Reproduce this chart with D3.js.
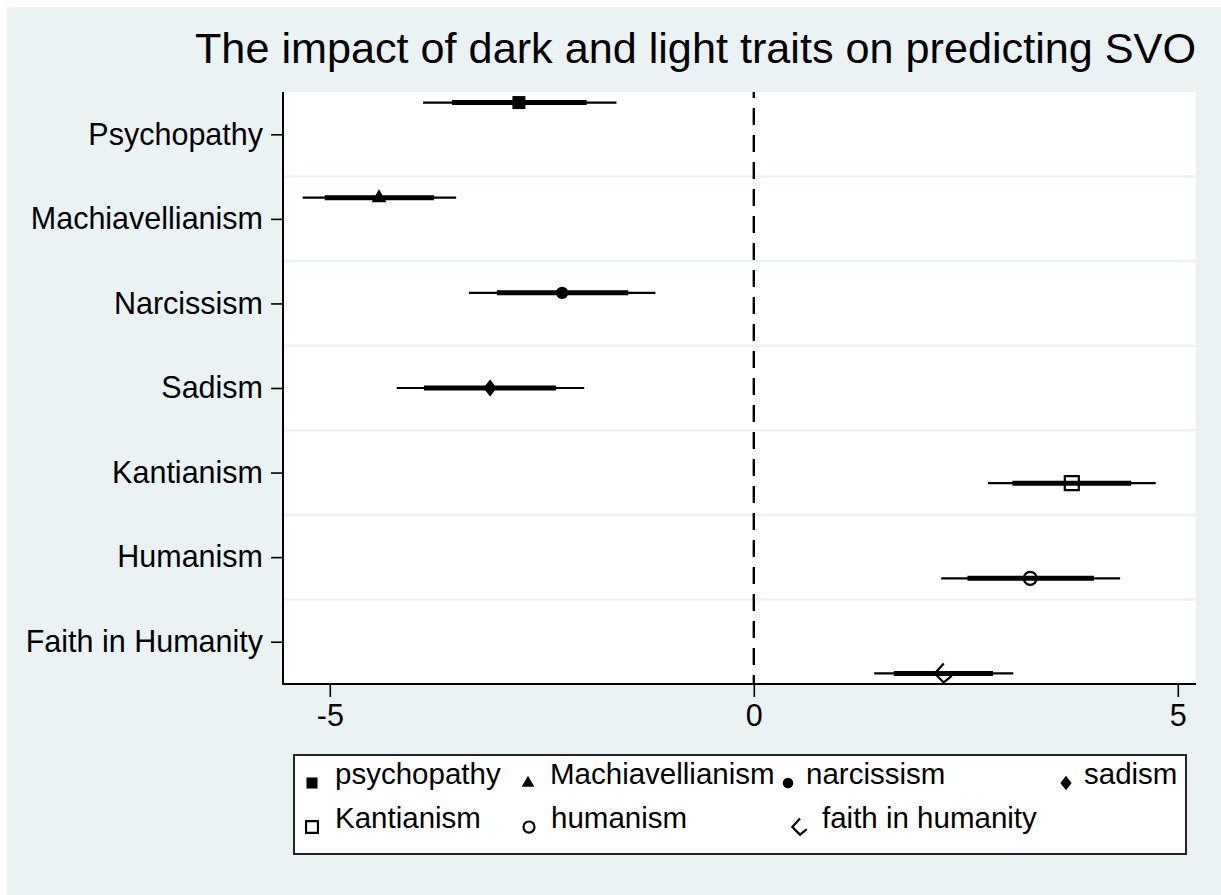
<!DOCTYPE html>
<html>
<head>
<meta charset="utf-8">
<script src="https://cdn.jsdelivr.net/npm/d3@7"></script>
<style>
  html, body { margin: 0; padding: 0; background: #ffffff; }
  svg { display: block; font-family: "Liberation Sans", Arial, sans-serif; }
</style>
</head>
<body>
<svg id="chart" width="1221" height="895"></svg>
<script>
// ---- data ----
const categories = ["Psychopathy", "Machiavellianism", "Narcissism", "Sadism", "Kantianism", "Humanism", "Faith in Humanity"];
const seriesNames = ["psychopathy", "Machiavellianism", "narcissism", "sadism", "Kantianism", "humanism", "faith in humanity"];
const estimates = [-2.77, -4.42, -2.26, -3.11, 3.75, 3.26, 2.24];
const ciOuterLow = [-3.90, -5.32, -3.36, -4.21, 2.76, 2.21, 1.42];
const ciOuterHigh = [-1.62, -3.51, -1.16, -2.00, 4.74, 4.32, 3.06];
const ciInnerLow = [-3.56, -5.06, -3.03, -3.89, 3.05, 2.52, 1.65];
const ciInnerHigh = [-1.97, -3.77, -1.48, -2.33, 4.45, 4.01, 2.82];
const markerTypes = ["squareFilled", "triangleFilled", "circleFilled", "diamondFilled", "squareHollow", "circleHollow", "diamondHollow"];
const xTicks = [-5, 0, 5];
const titleText = "The impact of dark and light traits on predicting SVO";

// ---- layout ----
const W = 1221, H = 895;
const plot = { left: 283, right: 1196, top: 92, bottom: 684 };
const bg = "#eaf2f3";

const svg = d3.select("#chart");
svg.append("rect").attr("x", 7).attr("y", 7).attr("width", W - 7).attr("height", H - 7).attr("fill", bg);
svg.append("rect").attr("x", plot.left).attr("y", plot.top)
  .attr("width", plot.right - plot.left).attr("height", plot.bottom - plot.top).attr("fill", "#ffffff");

const x = d3.scaleLinear().domain([-5, 5]).range([329.8, 1177.8]);
const y = d3.scaleLinear().domain([0.5, categories.length + 0.5]).range([plot.top, plot.bottom]);
const nS = seriesNames.length;
const offset = i => (i - (nS - 1) / 2) / (nS + 1);

// gridlines between categories
const gridVals = d3.range(1, categories.length).map(d => d + 0.5);
svg.append("g").selectAll("line").data(gridVals).join("line")
  .attr("x1", plot.left).attr("x2", plot.right)
  .attr("y1", d => y(d)).attr("y2", d => y(d))
  .attr("stroke", bg).attr("stroke-width", 2.6);

// reference line at 0
svg.append("line")
  .attr("x1", x(0)).attr("x2", x(0)).attr("y1", plot.top).attr("y2", plot.bottom)
  .attr("stroke", "#000").attr("stroke-width", 2.4)
  .attr("stroke-dasharray", "17 10").attr("stroke-dashoffset", 11);

// symbol paths
function symbolPath(type, s) {
  const p = d3.path();
  switch (type) {
    case "squareFilled": { const h = 6.5 * s; p.rect(-h, -h, 2 * h, 2 * h); break; }
    case "squareHollow": { const h = 7 * s; p.rect(-h, -h, 2 * h, 2 * h); break; }
    case "triangleFilled": { p.moveTo(0, -8.5 * s); p.lineTo(7.5 * s, 4.5 * s); p.lineTo(-7.5 * s, 4.5 * s); p.closePath(); break; }
    case "circleFilled": { p.arc(0, 0, 6.2 * s, 0, 2 * Math.PI); break; }
    case "circleHollow": { p.arc(0, 0, 6.5 * s, 0, 2 * Math.PI); break; }
    case "diamondFilled": { p.moveTo(0, -8.6 * s); p.lineTo(6.6 * s, 0); p.lineTo(0, 8.6 * s); p.lineTo(-6.6 * s, 0); p.closePath(); break; }
    case "diamondHollow": { p.moveTo(0, -10 * s); p.lineTo(-9 * s, 0); p.lineTo(0, 9 * s); p.lineTo(8 * s, 2.5 * s); break; }
  }
  return p.toString();
}
function styleSymbol(sel, type) {
  const hollow = type.endsWith("Hollow");
  sel.attr("fill", hollow ? "none" : "#000")
     .attr("stroke", hollow ? "#000" : "none")
     .attr("stroke-width", hollow ? 2.2 : 0);
}

// coefficient marks
const rows = estimates.map((e, i) => ({
  i, e, lo: ciOuterLow[i], hi: ciOuterHigh[i], lo2: ciInnerLow[i], hi2: ciInnerHigh[i],
  yy: y(i + 1 + offset(i)), type: markerTypes[i]
}));
const g = svg.append("g");
g.selectAll("line.outer").data(rows).join("line").attr("class", "outer")
  .attr("x1", d => x(d.lo)).attr("x2", d => x(d.hi)).attr("y1", d => d.yy).attr("y2", d => d.yy)
  .attr("stroke", "#000").attr("stroke-width", 2.2);
g.selectAll("line.inner").data(rows).join("line").attr("class", "inner")
  .attr("x1", d => x(d.lo2)).attr("x2", d => x(d.hi2)).attr("y1", d => d.yy).attr("y2", d => d.yy)
  .attr("stroke", "#000").attr("stroke-width", 5);
g.selectAll("path.mk").data(rows).join("path").attr("class", "mk")
  .attr("transform", d => `translate(${x(d.e)},${d.yy})`)
  .attr("d", d => symbolPath(d.type, 1))
  .each(function (d) { styleSymbol(d3.select(this), d.type); });

// axes lines
svg.append("line").attr("x1", plot.left).attr("x2", plot.left).attr("y1", plot.top).attr("y2", plot.bottom + 1)
  .attr("stroke", "#000").attr("stroke-width", 2);
svg.append("line").attr("x1", plot.left - 1).attr("x2", plot.right).attr("y1", plot.bottom).attr("y2", plot.bottom)
  .attr("stroke", "#000").attr("stroke-width", 2);

// y axis
const yAxis = d3.axisLeft(y).tickValues(d3.range(1, categories.length + 1))
  .tickFormat(d => categories[d - 1]).tickSize(12).tickPadding(8);
const ya = svg.append("g").attr("transform", `translate(${plot.left},0)`).call(yAxis);
ya.select(".domain").remove();
ya.selectAll(".tick line").attr("stroke", "#000").attr("stroke-width", 1.6);
ya.selectAll(".tick text").attr("font-size", 30.5).attr("fill", "#000")
  .attr("font-family", "Liberation Sans, Arial, sans-serif");

// x axis
const xAxis = d3.axisBottom(x).tickValues(xTicks).tickFormat(d3.format("d")).tickSize(13).tickPadding(7);
const xa = svg.append("g").attr("transform", `translate(0,${plot.bottom})`).call(xAxis);
xa.select(".domain").remove();
xa.selectAll(".tick line").attr("stroke", "#000").attr("stroke-width", 1.6);
xa.selectAll(".tick text").attr("font-size", 30.5).attr("fill", "#000")
  .attr("font-family", "Liberation Sans, Arial, sans-serif");
xa.selectAll(".tick text").text(d => d < 0 ? "-" + Math.abs(d) : d);

// title
svg.append("text").attr("x", 1196).attr("y", 63).attr("text-anchor", "end")
  .attr("font-size", 43.2).attr("fill", "#000").text(titleText);

// legend
const legend = { x: 294, y: 755, w: 892, h: 99 };
svg.append("rect").attr("x", legend.x).attr("y", legend.y).attr("width", legend.w).attr("height", legend.h)
  .attr("fill", "#fff").attr("stroke", "#222").attr("stroke-width", 2);
const legendPos = [
  { sx: 312, tx: 335, by: 784 }, { sx: 528, tx: 550, by: 784 }, { sx: 788, tx: 806, by: 784 }, { sx: 1066, tx: 1084, by: 784 },
  { sx: 312, tx: 335, by: 828 }, { sx: 529, tx: 551, by: 828 }, { sx: 800, tx: 822, by: 828 }
];
const lg = svg.append("g");
seriesNames.forEach((name, i) => {
  const p = legendPos[i];
  const sym = lg.append("path").attr("transform", `translate(${p.sx},${p.by - 1})`)
    .attr("d", symbolPath(markerTypes[i], 0.85));
  styleSymbol(sym, markerTypes[i]);
  lg.append("text").attr("x", p.tx).attr("y", p.by).attr("font-size", 29.5).attr("fill", "#000").text(name);
});
</script>
</body>
</html>
